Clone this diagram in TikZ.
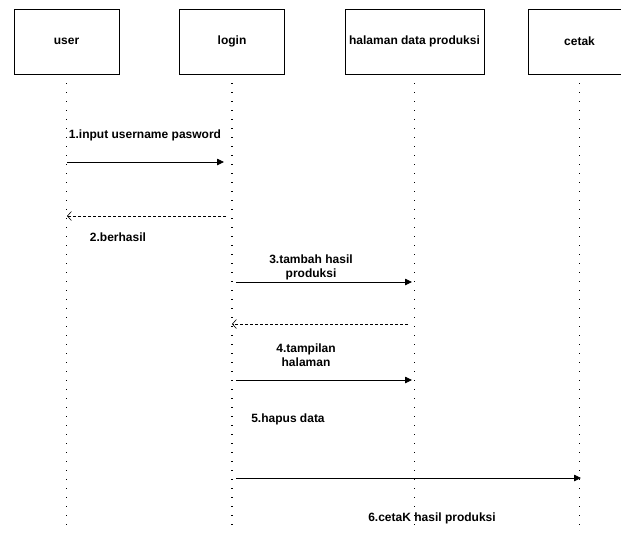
\documentclass[tikz,border=0pt]{standalone}
\usepackage{fontspec}
\setmainfont{Liberation Sans}
\usetikzlibrary{arrows.meta}
\begin{document}
\begin{tikzpicture}[x=1pt,y=-1pt,
  actor/.style={draw, line width=0.8pt, minimum width=105pt, minimum height=65pt, inner sep=0pt, font=\bfseries\fontsize{12}{14}\selectfont},
  lifeline/.style={line width=1.1pt, dash pattern=on 0.9pt off 8.1pt},
  msg/.style={line width=0.8pt, -{Triangle[length=7pt,width=6.5pt]}},
  ret/.style={line width=0.6pt, dash pattern=on 3pt off 2pt, -{Straight Barb[length=4pt,width=9pt]}},
  lbl/.style={font=\bfseries\fontsize{12}{14}\selectfont, align=center, inner sep=0pt}]
\useasboundingbox (0,0) rectangle (621,533);
% actors
\node[actor] (user) at (66.5,41.5) {user};
\node[actor] (login) at (232,41.5) {login};
\node[actor, minimum width=139pt] (hal) at (414.5,41.5) {halaman data produksi};
\node[actor, minimum width=103pt] (cetak) at (579.5,41.5) {cetak};
% lifeline ends
\coordinate (userEnd) at (66.5,533);
\coordinate (loginEnd) at (232,533);
\coordinate (halEnd) at (414.5,533);
\coordinate (cetakEnd) at (579.5,533);
\draw[lifeline] (user.south) -- (userEnd);
\draw[lifeline] (login.south) -- (loginEnd);
\draw[lifeline] (hal.south) -- (halEnd);
\draw[lifeline] (cetak.south) -- (cetakEnd);
% message end points
\coordinate (m1s) at (67,162);  \coordinate (m1e) at (224,162);
\coordinate (m2s) at (226,216); \coordinate (m2e) at (67,216);
\coordinate (m3s) at (236,282); \coordinate (m3e) at (412,282);
\coordinate (m4s) at (408,324); \coordinate (m4e) at (232,324);
\coordinate (m5s) at (236,380); \coordinate (m5e) at (412,380);
\coordinate (m6s) at (236,478); \coordinate (m6e) at (581,478);
\draw[msg] (m1s) -- (m1e);
\draw[ret] (m2s) -- (m2e);
\draw[msg] (m3s) -- (m3e);
\draw[ret] (m4s) -- (m4e);
\draw[msg] (m5s) -- (m5e);
\draw[msg] (m6s) -- (m6e);
% labels
\node[lbl] (l1) at (145,135) {1.input username pasword};
\node[lbl] (l2) at (118,237) {2.berhasil};
\node[lbl] (l3) at (311,267) {3.tambah hasil\\produksi};
\node[lbl] (l4) at (306,355) {4.tampilan\\halaman};
\node[lbl] (l5) at (288,419) {5.hapus data};
\node[lbl] (l6) at (432,518) {6.cetaK hasil produksi};
\end{tikzpicture}
\end{document}
